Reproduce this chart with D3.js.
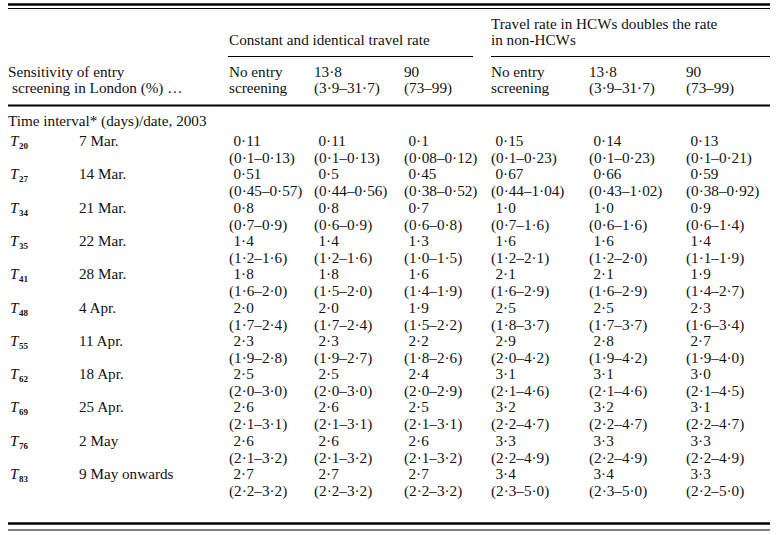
<!DOCTYPE html>
<html lang="en">
<head>
<meta charset="UTF-8">
<title>Time intervals table</title>
<script src="https://cdn.jsdelivr.net/npm/d3@7/dist/d3.min.js"></script>
<style>
    body { margin: 0; background: #fff; }
    svg text {
        font-family: "Liberation Serif", "DejaVu Serif", serif;
        font-size: 15.2px;
        fill: #111;
    }
    .rule { stroke: #000; }
</style>
</head>
<body>
<svg id="table" width="779" height="535"></svg>
<script>
// row labels
const intervals = ["20", "27", "34", "35", "41", "48", "55", "62", "69", "76", "83"]
const dates = ["7 Mar.", "14 Mar.", "21 Mar.", "22 Mar.", "28 Mar.", "4 Apr.", "11 Apr.", "18 Apr.", "25 Apr.", "2 May", "9 May onwards"]

// column headers
const groups = ["Constant and identical travel rate", "Travel rate in HCWs doubles the rate|in non-HCWs"]
const columns = ["c1", "c2", "c3", "c4", "c5", "c6"]
const colHead1 = ["No entry", "13.8", "90", "No entry", "13.8", "90"]
const colHead2 = ["screening", "(3.9–31.7)", "(73–99)", "screening", "(3.9–31.7)", "(73–99)"]

// estimates, lower and upper bounds per column
const est1 = ["0.11", "0.51", "0.8", "1.4", "1.8", "2.0", "2.3", "2.5", "2.6", "2.6", "2.7"]
const lo1  = ["0.1", "0.45", "0.7", "1.2", "1.6", "1.7", "1.9", "2.0", "2.1", "2.1", "2.2"]
const hi1  = ["0.13", "0.57", "0.9", "1.6", "2.0", "2.4", "2.8", "3.0", "3.1", "3.2", "3.2"]

const est2 = ["0.11", "0.5", "0.8", "1.4", "1.8", "2.0", "2.3", "2.5", "2.6", "2.6", "2.7"]
const lo2  = ["0.1", "0.44", "0.6", "1.2", "1.5", "1.7", "1.9", "2.0", "2.1", "2.1", "2.2"]
const hi2  = ["0.13", "0.56", "0.9", "1.6", "2.0", "2.4", "2.7", "3.0", "3.1", "3.2", "3.2"]

const est3 = ["0.1", "0.45", "0.7", "1.3", "1.6", "1.9", "2.2", "2.4", "2.5", "2.6", "2.7"]
const lo3  = ["0.08", "0.38", "0.6", "1.0", "1.4", "1.5", "1.8", "2.0", "2.1", "2.1", "2.2"]
const hi3  = ["0.12", "0.52", "0.8", "1.5", "1.9", "2.2", "2.6", "2.9", "3.1", "3.2", "3.2"]

const est4 = ["0.15", "0.67", "1.0", "1.6", "2.1", "2.5", "2.9", "3.1", "3.2", "3.3", "3.4"]
const lo4  = ["0.1", "0.44", "0.7", "1.2", "1.6", "1.8", "2.0", "2.1", "2.2", "2.2", "2.3"]
const hi4  = ["0.23", "1.04", "1.6", "2.1", "2.9", "3.7", "4.2", "4.6", "4.7", "4.9", "5.0"]

const est5 = ["0.14", "0.66", "1.0", "1.6", "2.1", "2.5", "2.8", "3.1", "3.2", "3.3", "3.4"]
const lo5  = ["0.1", "0.43", "0.6", "1.2", "1.6", "1.7", "1.9", "2.1", "2.2", "2.2", "2.3"]
const hi5  = ["0.23", "1.02", "1.6", "2.0", "2.9", "3.7", "4.2", "4.6", "4.7", "4.9", "5.0"]

const est6 = ["0.13", "0.59", "0.9", "1.4", "1.9", "2.3", "2.7", "3.0", "3.1", "3.3", "3.3"]
const lo6  = ["0.1", "0.38", "0.6", "1.1", "1.4", "1.6", "1.9", "2.1", "2.2", "2.2", "2.2"]
const hi6  = ["0.21", "0.92", "1.4", "1.9", "2.7", "3.4", "4.0", "4.5", "4.7", "4.9", "5.0"]

const estimates = [est1, est2, est3, est4, est5, est6]
const lows = [lo1, lo2, lo3, lo4, lo5, lo6]
const highs = [hi1, hi2, hi3, hi4, hi5, hi6]

const dot = s => s.replace(/\./g, '\u00b7')

const svg = d3.select('#table')
const left = 8, right = 770

const xScale = d3.scaleOrdinal().domain(columns).range([229, 314, 404, 491, 589, 686])
const yScale = d3.scalePoint().domain(intervals).range([146, 479])
const lineGap = 17

// horizontal rules
const rules = [
    { x1: left, x2: right, y: 4.5, w: 2.4 },
    { x1: left, x2: right, y: 8.5, w: 1 },
    { x1: 228, x2: 473, y: 56.5, w: 1 },
    { x1: 491, x2: right, y: 56.5, w: 1 },
    { x1: left, x2: right, y: 105.5, w: 2.2 },
    { x1: left, x2: right, y: 523.5, w: 2.4 },
    { x1: left, x2: right, y: 530, w: 1 }
]
svg.selectAll('line.rule').data(rules).enter().append('line')
    .attr('class', 'rule')
    .attr('x1', d => d.x1).attr('x2', d => d.x2)
    .attr('y1', d => d.y).attr('y2', d => d.y)
    .attr('stroke-width', d => d.w)

// group headers
svg.append('text').attr('x', 229).attr('y', 45).text(groups[0])
groups[1].split('|').forEach((t, i) => {
    svg.append('text').attr('x', 491).attr('y', 29 + i * 16).text(t)
})

// stub header
svg.append('text').attr('x', left).attr('y', 77).text('Sensitivity of entry')
svg.append('text').attr('x', left + 4).attr('y', 93).text('screening in London (%) \u2026')

// column headers
const head = svg.append('g')
head.selectAll('text.h1').data(columns).enter().append('text')
    .attr('x', d => xScale(d)).attr('y', 77)
    .text((d, i) => dot(colHead1[i]))
head.selectAll('text.h2').data(columns).enter().append('text')
    .attr('x', d => xScale(d)).attr('y', 93)
    .text((d, i) => dot(colHead2[i]))

svg.append('text').attr('x', left).attr('y', 126).text('Time interval* (days)/date, 2003')

// row labels
const rows = svg.append('g').selectAll('g').data(intervals).enter().append('g')
    .attr('transform', d => `translate(0,${yScale(d)})`)

const lab = rows.append('text').attr('x', 10)
lab.append('tspan').attr('font-style', 'italic').text('T')
lab.append('tspan').attr('font-size', '9px').attr('font-weight', 'bold')
    .attr('dy', 3).attr('dx', 0.5).text(d => d)

rows.append('text').attr('x', 79).text((d, i) => dates[i])

// cells
columns.forEach((c, ci) => {
    rows.append('text')
        .attr('x', xScale(c) + 4.5)
        .text((d, i) => dot(estimates[ci][i]))
    rows.append('text')
        .attr('x', xScale(c))
        .attr('y', lineGap)
        .text((d, i) => `(${dot(lows[ci][i])}\u2013${dot(highs[ci][i])})`)
})
</script>
</body>
</html>
